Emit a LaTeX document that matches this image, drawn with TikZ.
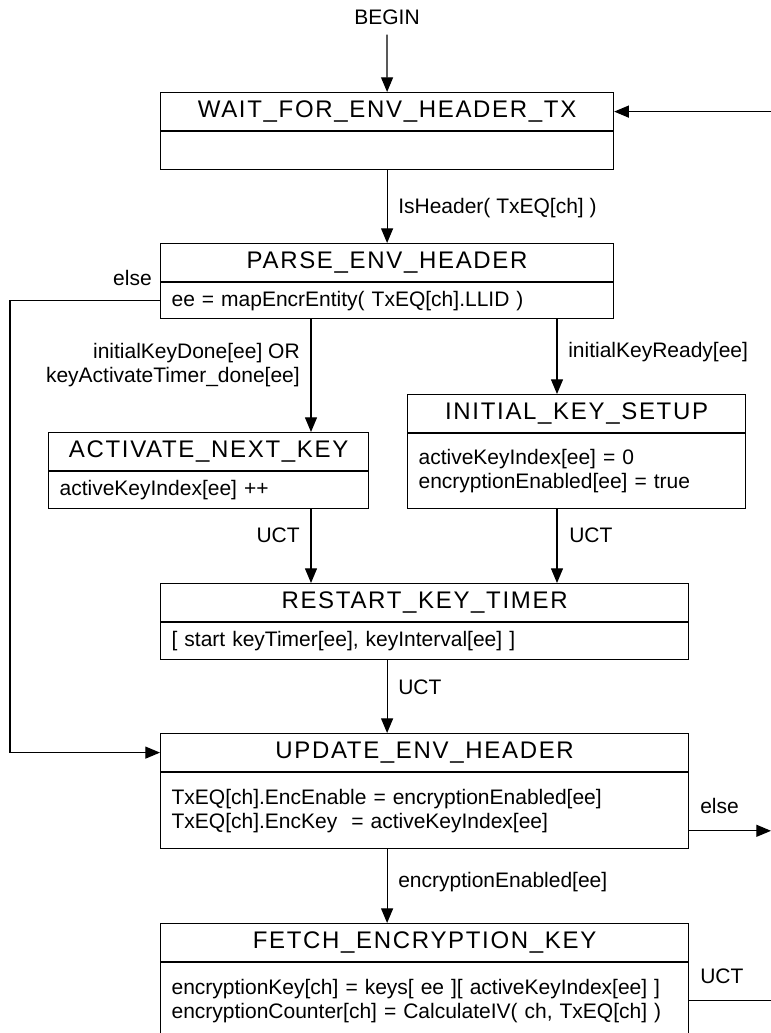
\documentclass[tikz,border=0pt]{standalone}
\usepackage{fontspec}
\setmainfont{Liberation Sans}
\newfontfamily\titlefont[LetterSpace=7]{Liberation Sans}
\usetikzlibrary{arrows.meta}
\tikzset{
    statetitle/.style={draw, line width=0.9pt, inner sep=0pt, minimum height=28.5pt, font=\titlefont\fontsize{18}{20}\selectfont},
    statebody/.style={draw, line width=0.9pt, inner ysep=0pt, inner xsep=8.25pt, align=left, font=\fontsize{15.75}{18}\selectfont},
    trans/.style={line width=0.9pt, -{Triangle[length=11pt,width=9pt]}},
    lbl/.style={inner sep=0pt, font=\fontsize{15.75}{18}\selectfont}
}
% name, left, top, width, body height, title, body
\newcommand{\drawState}[7]{
    \node[statetitle, anchor=north west, minimum width={#4*0.75pt}] (#1) at (#2,#3) {#6};
    \node[statebody, anchor=north, minimum width={#4*0.75pt}, text width={(#4-22)*0.75pt}, minimum height={#5*0.75pt}] (#1b) at (#1.south) {#7};
}

\begin{document}
\begin{tikzpicture}[x=0.75pt,y=-0.75pt]
            \useasboundingbox (0,0) rectangle (771,1033);

            \drawState{wait}{160}{92}{453}{38}{WAIT\_FOR\_ENV\_HEADER\_TX}{}
            \drawState{parse}{160}{243}{453}{36}{PARSE\_ENV\_HEADER}{ee = mapEncrEntity( TxEQ[ch].LLID )}
            \drawState{actkey}{48}{432}{320}{37}{ACTIVATE\_NEXT\_KEY}{activeKeyIndex[ee] ++}
            \drawState{initkey}{407}{394}{338}{75}{INITIAL\_KEY\_SETUP}{activeKeyIndex[ee] = 0\\ encryptionEnabled[ee] = true}
            \drawState{restart}{160}{583}{528}{37}{RESTART\_KEY\_TIMER}{[ start keyTimer[ee], keyInterval[ee] ]}
            \drawState{update}{160}{733}{528}{76}{UPDATE\_ENV\_HEADER}{TxEQ[ch].EncEnable = encryptionEnabled[ee]\\ TxEQ[ch].EncKey\ \ = activeKeyIndex[ee]}
            \drawState{fetch}{160}{923}{528}{76}{FETCH\_ENCRYPTION\_KEY}{encryptionKey[ch] = keys[ ee ][ activeKeyIndex[ee] ]\\ encryptionCounter[ch] = CalculateIV( ch, TxEQ[ch] )}

            \coordinate (lcol) at (311,0);
            \coordinate (rcol) at (557,0);
            \coordinate (leftrail) at (10,0);
            \coordinate (rightedge) at (771,0);
            \coordinate (elseout) at ([yshift=-15pt]updateb.east);

            \node[lbl] (begin) at (387,17) {BEGIN};
            \node[lbl, anchor=west] (isheader) at (398,208) {IsHeader( TxEQ[ch] )};
            \node[lbl, anchor=east] (elseleft) at (152,278) {else};
            \node[lbl, anchor=east, align=right] (keydone) at (300,365) {initialKeyDone[ee] OR\\keyActivateTimer\_done[ee]};
            \node[lbl, anchor=west] (keyready) at (568,352) {initialKeyReady[ee]};
            \node[lbl, anchor=east] (uctleft) at (300,535) {UCT};
            \node[lbl, anchor=west] (uctright) at (569,535) {UCT};
            \node[lbl, anchor=west] (uctmid) at (398,687) {UCT};
            \node[lbl, anchor=west] (elseright) at (700,806) {else};
            \node[lbl, anchor=west] (encon) at (398,882) {encryptionEnabled[ee]};
            \node[lbl, anchor=west] (uctfetch) at (700,976) {UCT};

            \draw[trans] ([yshift=-7.5pt]begin.south) -- (wait.north);
            \draw[trans] (rightedge |- wait.east) -- (wait.east);
            \draw[trans] (waitb.south) -- (parse.north);
            \draw[trans] (parseb.south -| lcol) -- (actkey.north -| lcol);
            \draw[trans] (parseb.south -| rcol) -- (initkey.north -| rcol);
            \draw[trans] (actkeyb.south -| lcol) -- (restart.north -| lcol);
            \draw[trans] (initkeyb.south -| rcol) -- (restart.north -| rcol);
            \draw[trans] (restartb.south -| wait.south) -- (update.north -| wait.south);
            \draw[trans] (parseb.west) -- (parseb.west -| leftrail) |- (update.west);
            \draw[trans] (updateb.south -| wait.south) -- (fetch.north -| wait.south);
            \draw[trans] (elseout) -- (elseout -| rightedge);
            \draw[line width=0.9pt] (fetchb.east) -- (fetchb.east -| rightedge);

\end{tikzpicture}
\end{document}
